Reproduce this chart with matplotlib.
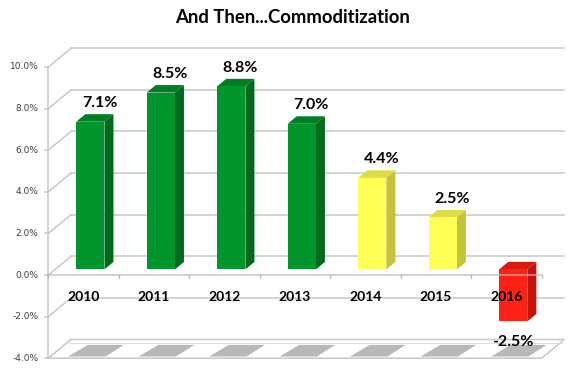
import numpy as np
import matplotlib
matplotlib.use('Agg')
import matplotlib.pyplot as plt
from matplotlib.patches import Polygon

# Data
years = ['2010', '2011', '2012', '2013', '2014', '2015', '2016']
growth = [7.1, 8.5, 8.8, 7.0, 4.4, 2.5, -2.5]
y_ticks = [-4, -2, 0, 2, 4, 6, 8, 10]

# pseudo 3D settings (data units)
DX, DY = 0.32, 0.9      # full depth offset of the back wall
F, D = 0.3, 0.4         # bar front depth, bar depth
W = 0.4                 # bar width
GRID = '#c8c8c8'

# colours by status: front, side, top
palette = {
    'green': ('#00952d', '#006a1c', '#007d25'),
    'yellow': ('#ffff55', '#c4c43a', '#dcdc45'),
    'red': ('#ff2016', '#c0150d', '#d81a10'),
}
status = np.where(np.array(growth) < 0, 'red', np.where(np.array(growth) < 5, 'yellow', 'green'))

fig = plt.figure(figsize=(5.8, 3.68), dpi=100)
ax = fig.add_axes([0, 0, 1, 1])
ax.set_xlim(-1.186, 7.043)
ax.set_ylim(-4.47, 13.22)
ax.axis('off')

x0, x1 = -0.5, len(years) - 0.5
ymin = min(y_ticks)

# back wall gridlines + left diagonals
for v in y_ticks:
    ax.plot([x0, x0 + DX], [v, v + DY], color=GRID, lw=1.1, zorder=1)
    if v != ymin:
        ax.plot([x0 + DX, x1 + DX], [v + DY, v + DY], color=GRID, lw=1.1, zorder=1)
    ax.plot([x0 - 0.05, x0], [v, v], color=GRID, lw=1.1, zorder=1)
    ax.text(x0 - 0.14, v, f'{v:.1f}%', ha='right', va='center', fontsize=6.5,
            color='#404040', family='DejaVu Sans')
ax.plot([x0, x0], [ymin, max(y_ticks)], color=GRID, lw=1.1, zorder=1)

# floor slab
floor = Polygon([(x0, ymin), (x1, ymin), (x1 + DX, ymin + DY), (x0 + DX, ymin + DY)],
                closed=True, facecolor='white', edgecolor=GRID, lw=1.1, zorder=1)
ax.add_patch(floor)
ax.plot([x0 + DX * 0.9, x1 + DX * 0.9], [ymin + DY * 0.82, ymin + DY * 0.82], color='#dddddd', lw=0.8, zorder=1)

# bar shadows on the floor
for i in range(len(years)):
    shadow = Polygon([(i - 0.22, ymin + 0.08), (i + 0.31, ymin + 0.08),
                      (i + 0.57, ymin + 0.64), (i + 0.06, ymin + 0.64)],
                     closed=True, facecolor='#b8b8b8', edgecolor='none', zorder=2)
    ax.add_patch(shadow)

# bars
for i, (v, s) in enumerate(zip(growth, status)):
    front, side, top = palette[s]
    xl = i - W / 2 + F * DX
    xr = xl + W
    yb = min(v, 0) + F * DY
    yt = max(v, 0) + F * DY
    ddx, ddy = D * DX, D * DY
    ax.add_patch(Polygon([(xr, yb), (xr, yt), (xr + ddx, yt + ddy), (xr + ddx, yb + ddy)],
                         closed=True, facecolor=side, edgecolor='none', zorder=3))
    ax.add_patch(Polygon([(xl, yt), (xr, yt), (xr + ddx, yt + ddy), (xl + ddx, yt + ddy)],
                         closed=True, facecolor=top, edgecolor='none', zorder=3))
    ax.add_patch(Polygon([(xl, yb), (xr, yb), (xr, yt), (xl, yt)],
                         closed=True, facecolor=front, edgecolor='none', zorder=4))
    # value label
    fc = (xl + xr) / 2
    if v >= 0:
        ax.text(fc + 0.13, yt + 0.9, f'{v:.1f}%', ha='center', va='center', fontsize=11.5,
                fontweight='bold', family='Lato', zorder=6)
    else:
        ax.text(fc, yb - 1.0, f'{v:.1f}%', ha='center', va='center', fontsize=11.5,
                fontweight='bold', family='Lato', zorder=6)
    # category label
    ax.text(i, -1.05, years[i], ha='center', va='center', fontsize=10,
            fontweight='bold', family='Lato', zorder=6)

# front category axis at 0
ax.plot([x0, x1], [0, 0], color='#b8b8b8', lw=1.1, zorder=5, alpha=0.8)
for k in range(len(years) + 1):
    ax.plot([x0 + k, x0 + k], [0, -0.15], color='#b8b8b8', lw=0.9, zorder=5)

ax.text(2.97, 12.4, 'And Then...Commoditization', ha='center', va='center',
        fontsize=13.3, fontweight='bold', family='Lato')

fig.savefig('out.png', dpi=100)
